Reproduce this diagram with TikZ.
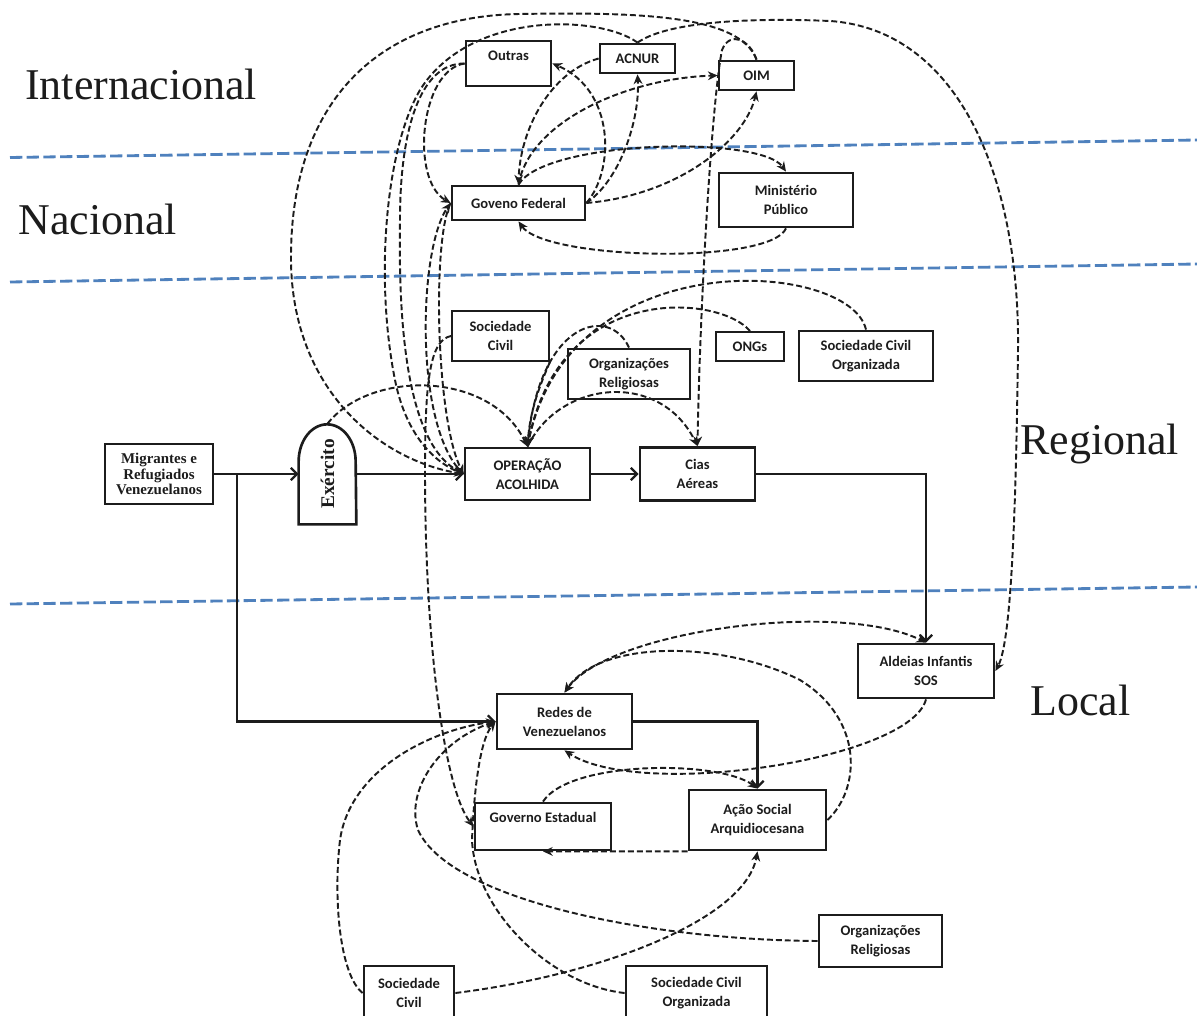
\documentclass[tikz,border=0pt]{standalone}
\usepackage{graphicx}
\usepackage{fontspec}
\setmainfont{Liberation Serif}
\newfontfamily\boxfont{Carlito}
\usetikzlibrary{arrows.meta}
\definecolor{boxink}{HTML}{1C1C1C}
\definecolor{levelblue}{HTML}{4F81BD}

\begin{document}
\begin{tikzpicture}[
  x=0.02cm,
  y=-0.02cm,
  >={Stealth[length=5.5pt,width=5pt]},
  every node/.style={boxink},
  box/.style={draw=boxink, line width=1.6pt, rectangle, inner sep=0pt, align=center,
    font=\boxfont\bfseries\fontsize{8.3}{10.8}\selectfont},
  serifbox/.style={draw=boxink, line width=1.6pt, rectangle, inner sep=0pt, align=center,
    font=\bfseries\fontsize{8.5}{8.8}\selectfont},
  level/.style={font=\fontsize{25}{25}\selectfont, anchor=base west, inner sep=0pt},
  levelline/.style={levelblue, line width=1.6pt, dash pattern=on 7pt off 2.5pt},
  flow/.style={boxink, line width=1.3pt, -{Straight Barb[length=3.5pt,width=7pt]}},
  link/.style={boxink, line width=1.1pt, dash pattern=on 3.4pt off 1.7pt, ->},
  linkboth/.style={link, <->}
]
  \useasboundingbox (0,0) rectangle (1197,1016);

  % ---- levels ----
  \draw[levelline] (10,157.5) -- (1197,140);
  \draw[levelline] (10,282) -- (1197,264);
  \draw[levelline] (10,604) -- (1197,587);
  \node[level] (lblint) at (25,100) {Internacional};
  \node[level] (lblnac) at (18,235) {Nacional};
  \node[level] (lblreg) at (1020,455) {Regional};
  \node[level] (lblloc) at (1030,715) {Local};

  % ---- international / national ----
  \node[box, minimum width=1.70cm, minimum height=0.90cm, text height=10.8pt, text depth=14.7pt]
    (outras) at (508.5,63.5) {Outras};
  \node[box, minimum width=1.50cm, minimum height=0.58cm] (acnur) at (637.5,58.5) {ACNUR};
  \node[box, minimum width=1.50cm, minimum height=0.58cm] (oim) at (756.5,75.5) {OIM};
  \node[box, minimum width=2.66cm, minimum height=0.68cm] (govfed) at (518.5,203) {Goveno Federal};
  \node[box, minimum width=2.68cm, minimum height=1.08cm] (minpub) at (786,200) {Ministério\\Público};

  % ---- regional ----
  \node[box, line width=1.1pt, minimum width=1.94cm, minimum height=1.00cm] (socciv) at (500.5,336) {Sociedade\\Civil};
  \node[box, minimum width=2.44cm, minimum height=1.00cm] (orgrel) at (629,374) {Organizações\\Religiosas};
  \node[box, line width=1.1pt, minimum width=1.36cm, minimum height=0.58cm] (ongs) at (750,346.5) {ONGs};
  \node[box, minimum width=2.68cm, minimum height=1.00cm] (socorg) at (866,356) {Sociedade Civil\\Organizada};
  \node[serifbox, minimum width=2.16cm, minimum height=1.20cm] (migr) at (159,474) {Migrantes e\\Refugiados\\Venezuelanos};
  \node[inner sep=0pt, minimum width=1.14cm, minimum height=2.00cm,
    font=\bfseries\fontsize{11}{11}\selectfont] (exerc) at (327.5,474) {\rotatebox{90}{Exército}};
  \draw[boxink, line width=1.5pt] (exerc.south west) -- ++(0,-63)
    arc[start angle=180, end angle=0, x radius=0.57cm, y radius=0.74cm] -- (exerc.south east) -- cycle;
  \node[box, minimum width=2.50cm, minimum height=1.04cm] (opacol) at (527.5,474) {OPERAÇÃO\\ACOLHIDA};
  \node[box, minimum width=2.30cm, minimum height=1.06cm] (cias) at (697.5,474) {Cias\\Aéreas};

  % ---- local ----
  \node[box, minimum width=2.72cm, minimum height=1.08cm] (aldeias) at (926,671) {Aldeias Infantis\\SOS};
  \node[box, minimum width=2.70cm, minimum height=1.10cm] (redes) at (564.5,721.5) {Redes de\\Venezuelanos};
  \node[box, minimum width=2.72cm, minimum height=0.94cm, text height=10.8pt, text depth=15.8pt]
    (govest) at (543,826.5) {Governo Estadual};
  \node[box, minimum width=2.74cm, minimum height=1.20cm] (acao) at (757.5,820) {Ação Social\\Arquidiocesana};
  \node[box, minimum width=2.46cm, minimum height=1.04cm] (orgrelb) at (880.5,941) {Organizações\\Religiosas};
  \node[box, minimum width=1.80cm, minimum height=1.08cm] (soccivb) at (409,993) {Sociedade\\Civil};
  \node[box, minimum width=2.82cm, minimum height=1.08cm] (socorgb) at (696.5,993) {Sociedade Civil\\Organizada};

  % ---- main flow ----
  \coordinate (split) at (237,474);
  \draw[flow] (migr.east) -- (exerc.west);
  \draw[flow] (split) |- (redes.west);
  \draw[flow] (exerc.east) -- (opacol.west);
  \draw[flow] (opacol.east) -- (cias.west);
  \draw[flow] (cias.east) -| (aldeias.north);
  \draw[flow] (redes.east) -| (acao.north);

  % ---- links above operacao acolhida ----
  \draw[link] (oim.north) .. controls (740,15) and (640,12) .. (520,14)
    .. controls (380,16) and (290,100) .. (291,260)
    .. controls (292,390) and (380,460) .. (opacol.west);
  \draw[link] (acnur.north) .. controls (600,15) and (470,10) .. (420,90)
    .. controls (385,150) and (375,280) .. (395,380)
    .. controls (405,430) and (430,460) .. (opacol.west);
  \draw[link] (outras.west) .. controls (420,63) and (400,130) .. (400,220)
    .. controls (398,340) and (410,445) .. (opacol.west);
  \draw[link] (outras.west) .. controls (420,70) and (410,180) .. (govfed.west);
  \draw[link] (opacol.west) .. controls (414,430) and (418,250) .. (govfed.west);
  \draw[link] (govfed.west) .. controls (432,240) and (436,420) .. (opacol.west);
  \draw[link] (socciv.west) .. controls (430,340) and (425,380) .. (425,470)
    .. controls (425,650) and (445,790) .. (govest.west);

  % ---- links of the federal government ----
  \draw[link] (govfed.east) .. controls (615,170) and (615,90) .. (outras.east);
  \draw[link] (govfed.east) .. controls (620,180) and (640,120) .. (acnur.south);
  \draw[link] (govfed.east) .. controls (680,195) and (745,140) .. (oim.south);
  \draw[link] (acnur.west) .. controls (550,72) and (520,130) .. (govfed.north);
  \draw[link] (govfed.north) .. controls (530,120) and (630,78) .. (oim.west);
  \draw[link] (govfed.north) .. controls (545,140) and (760,135) .. (minpub.north);
  \draw[link] (minpub.south) .. controls (770,265) and (545,260) .. (govfed.south);

  % ---- long links ----
  \draw[link] (acnur.north) .. controls (670,20) and (760,18) .. (830,21)
    .. controls (960,30) and (1020,180) .. (1018,350)
    .. controls (1016,500) and (1012,640) .. (aldeias.east);
  \draw[link] (oim.north) .. controls (750,40) and (730,30) .. (722,50)
    .. controls (712,100) and (700,300) .. (cias.north);

  % ---- links into operacao acolhida ----
  \draw[link] (exerc.north) .. controls (370,370) and (490,370) .. (opacol.north);
  \draw[link] (socciv.south east) .. controls (540,385) and (530,410) .. (opacol.north);
  \draw[link] (orgrel.north) .. controls (610,305) and (540,320) .. (opacol.north);
  \draw[link] (ongs.north) .. controls (720,295) and (560,280) .. (opacol.north);
  \draw[link] (socorg.north) .. controls (850,260) and (570,240) .. (opacol.north);
  \draw[link] (opacol.north) .. controls (560,380) and (660,370) .. (cias.north);

  % ---- local links ----
  \draw[linkboth] (redes.north) .. controls (610,630) and (840,600) .. (aldeias.north);
  \draw[link] (acao.east) .. controls (860,790) and (865,720) .. (800,680)
    .. controls (720,640) and (600,640) .. (redes.north);
  \draw[link] (aldeias.south) .. controls (910,760) and (640,800) .. (redes.south);
  \draw[link] (govest.north) .. controls (570,760) and (720,760) .. (acao.north);
  \draw[link] (acao.south west) -- (govest.south);
  \draw[link] (soccivb.west) .. controls (340,975) and (333,900) .. (340,840)
    .. controls (350,770) and (430,730) .. (redes.west);
  \draw[link] (orgrelb.west) .. controls (650,940) and (450,900) .. (418,830)
    .. controls (405,790) and (440,740) .. (redes.west);
  \draw[link] (socorgb.west) .. controls (550,985) and (475,910) .. (472,840)
    .. controls (474,790) and (480,740) .. (redes.west);
  \draw[link] (soccivb.east) .. controls (600,975) and (745,920) .. (acao.south);
\end{tikzpicture}
\end{document}
